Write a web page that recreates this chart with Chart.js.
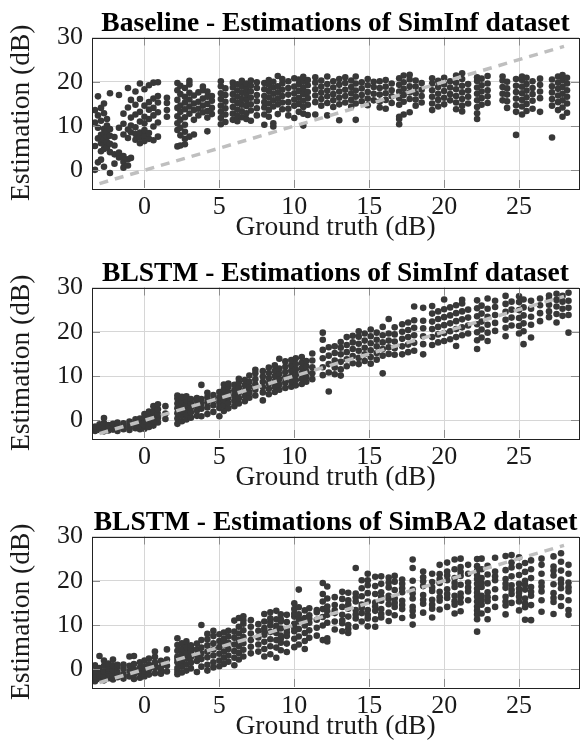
<!DOCTYPE html>
<html>
<head>
<meta charset="utf-8">
<script src="https://cdn.jsdelivr.net/npm/chart.js@4.4.1/dist/chart.umd.min.js"></script>
<style>
  html, body { margin: 0; padding: 0; background: #fff; overflow: hidden; }
  body { width: 581px; height: 742px; position: relative; }
  .panel { position: absolute; left: 0; }
  canvas { display: block; }
</style>
</head>
<body>
<div class="panel" style="top:0px"><canvas id="baseChart" width="583" height="250"></canvas></div>
<div class="panel" style="top:250px"><canvas id="infChart" width="583" height="250"></canvas></div>
<div class="panel" style="top:499px"><canvas id="ba2Chart" width="583" height="250"></canvas></div>

<script>
// axis ticks
const xTicks = [0, 5, 10, 15, 20, 25];
const yTicks = [0, 10, 20, 30];
const refLine = [-3, 28];

// Baseline - SimInf: ground truth columns and the estimations read for each
const baseTruth = [-3.3, -3.1, -2.9, -2.7, -2.5, -2.3, -2.0, -1.7, -1.4, -1.1, -0.9, -0.6, -0.3, 0.0, 0.3, 0.6, 0.9, 1.5,
  2.2, 2.4, 2.7, 3.0, 3.3, 3.6, 3.9, 4.2, 4.5, 5.1, 5.4, 5.9, 6.2, 6.5, 6.8, 7.1, 7.5, 8.0, 8.3, 8.6, 8.9, 9.2, 9.6,
  10.0, 10.3, 10.6, 10.9, 11.4, 11.8, 12.2, 12.6, 13.0, 13.4, 13.8, 14.1, 14.5, 14.9, 15.3, 15.7, 16.1, 16.5,
  17.0, 17.3, 17.7, 18.1, 18.5, 19.2, 19.6, 20.0, 20.4, 20.8, 21.2, 21.6, 22.2, 22.5, 22.9, 23.9, 24.2, 24.8,
  25.2, 25.5, 25.9, 26.4, 27.2, 27.6, 27.9, 28.2];
const baseEst = [
  [0.1, 5.5, 10.8, 13.6], [1.8, 7.2, 9.6, 12.4, 16.7], [2.4, 4.3, 6.1, 8.0, 11.2, 14.1],
  [0.8, 4.8, 5.9, 6.9, 8.3, 9.4, 12.9, 15.1], [5.2, 6.4, 7.6, 8.8, 10.1, 11.6], [-0.6, 4.1, 6.0, 7.8, 9.3, 17.4],
  [1.5, 3.6, 5.6, 7.5], [2.9, 4.0, 9.6, 17.0], [0.6, 1.9, 3.2, 8.1, 10.5, 12.8], [1.1, 2.5, 7.3, 9.2, 14.2, 18.6],
  [2.8, 8.6, 10.1, 11.9, 15.9], [6.9, 8.2, 9.7, 12.6, 14.8, 17.8], [6.1, 7.4, 8.5, 11.0, 13.2, 16.1, 19.6],
  [6.6, 7.8, 9.1, 10.6, 12.1, 14.6, 18.3], [7.1, 8.4, 11.6, 13.7, 15.4, 19.2], [6.8, 9.9, 12.4, 14.1, 16.2, 19.8],
  [7.6, 10.8, 13.1, 15.3, 16.8, 19.9], [12.1, 13.6, 15.2, 16.4],
  [5.4, 9.1, 10.6, 12.2, 14.1, 15.9, 18.1, 19.7], [5.6, 7.9, 9.6, 11.4, 13.2, 14.6, 17.2, 19.1],
  [5.9, 7.1, 8.7, 10.3, 12.0, 13.8, 15.3, 16.6, 18.6], [7.6, 12.8, 14.4, 16.0, 17.5, 19.4, 20.2],
  [8.1, 11.4, 13.6, 15.1, 16.9], [12.4, 13.9, 15.5, 17.6], [13.1, 14.6, 16.2, 18.1, 18.9],
  [8.8, 11.9, 13.4, 15.0, 16.6, 17.8], [12.7, 14.1, 15.7, 16.8],
  [10.4, 11.8, 13.2, 14.6, 16.1, 17.4, 19.0, 20.1], [10.9, 12.6, 14.0, 15.5, 17.0, 18.5],
  [11.4, 12.8, 14.3, 15.8, 17.2, 18.7, 19.8], [11.1, 12.3, 13.7, 15.2, 16.6, 18.0, 19.4],
  [12.0, 13.3, 14.8, 16.1, 17.5, 18.9, 20.2], [11.6, 12.9, 14.5, 15.9, 17.2, 18.4, 19.6],
  [11.2, 13.5, 14.9, 16.4, 17.8, 19.1, 20.3], [12.4, 14.0, 15.6, 17.0, 18.6, 19.9],
  [10.3, 12.6, 14.2, 15.4, 16.8, 18.3, 19.7], [12.1, 13.6, 15.1, 16.5, 17.9, 19.3, 20.4],
  [9.9, 10.6, 14.4, 15.8, 17.3, 18.7, 20.0], [12.7, 14.9, 16.2, 17.6, 19.0, 21.3],
  [13.8, 15.3, 16.8, 18.2, 19.6, 20.6], [12.4, 13.9, 15.4, 17.1, 18.6, 20.1],
  [11.8, 14.6, 16.0, 17.4, 18.9, 20.8], [13.2, 15.0, 16.4, 17.9, 19.4, 20.5],
  [10.1, 12.8, 14.3, 15.7, 17.2, 18.6, 20.0, 21.1], [12.5, 14.8, 16.3, 17.7, 19.2, 20.4],
  [12.6, 15.4, 16.9, 18.3, 19.8, 21.0], [14.6, 16.1, 17.5, 18.9, 20.3],
  [12.4, 15.2, 16.7, 18.0, 19.5, 21.2], [14.3, 15.8, 17.2, 18.7, 20.1],
  [11.3, 14.9, 16.4, 17.8, 19.3, 20.6], [15.3, 16.8, 18.2, 19.7, 21.0], [14.4, 15.9, 17.4, 18.8, 20.3],
  [11.4, 15.1, 16.6, 18.0, 19.6, 21.2], [15.6, 17.0, 18.5, 19.9], [14.7, 16.2, 17.7, 19.2, 20.6],
  [15.8, 17.3, 18.8, 20.0], [14.2, 15.5, 17.1, 18.6, 20.1], [13.9, 15.9, 17.4, 18.9, 20.4],
  [15.2, 16.7, 18.1, 19.6],
  [10.4, 11.6, 12.1, 14.8, 16.3, 17.8, 19.3, 20.8], [12.6, 15.5, 17.0, 18.4, 19.9, 21.4],
  [13.1, 16.1, 17.6, 19.0, 20.5, 21.6], [14.6, 16.0, 17.4, 18.9, 20.3], [15.3, 16.8, 18.2, 19.7],
  [13.6, 15.1, 16.6, 18.1, 19.6, 20.8], [14.4, 15.9, 17.3, 18.8, 20.2], [14.9, 16.4, 17.9, 19.4, 20.9],
  [15.8, 17.2, 18.7, 20.1], [13.8, 15.3, 16.8, 18.3, 19.8, 21.4], [13.3, 14.6, 16.1, 17.6, 19.1, 20.6, 21.9],
  [15.1, 16.6, 18.0, 19.5],
  [11.6, 12.9, 14.3, 15.8, 17.3, 18.7, 20.2, 21.0], [14.8, 16.3, 17.8, 19.2, 20.7], [15.2, 16.7, 18.1, 19.6, 21.3],
  [15.8, 17.3, 18.8, 20.3, 21.2], [14.1, 15.6, 17.1, 18.5, 20.0], [8.0, 13.2, 14.7, 16.2, 17.7, 19.1, 20.6],
  [12.6, 14.4, 15.9, 17.4, 18.9, 20.4, 21.2], [13.4, 15.0, 16.5, 18.0, 19.5, 20.9], [13.9, 15.7, 17.2, 18.6, 20.1],
  [13.2, 16.3, 17.8, 19.3, 20.7], [7.4, 14.6, 16.1, 17.6, 19.0, 20.5], [13.6, 15.4, 16.9, 18.4, 19.8, 21.2],
  [12.1, 14.2, 15.8, 17.3, 18.8, 20.3, 21.5], [13.0, 15.1, 16.6, 18.1, 19.6, 20.9]
];

// BLSTM - SimInf
const infTruth = [-3.3, -3.0, -2.7, -2.4, -2.1, -1.8, -1.4, -1.0, -0.6, -0.3, 0.0, 0.3, 0.6, 0.9, 1.4,
  2.2, 2.5, 2.8, 3.1, 3.5, 3.8, 4.2, 4.6, 5.0, 5.3, 5.6, 6.0, 6.3, 6.7, 7.0, 7.4, 7.9, 8.3, 8.7, 9.0, 9.4, 9.8,
  10.1, 10.5, 10.8, 11.2, 11.9, 12.3, 12.7, 13.1, 13.5, 13.9, 14.3, 14.7, 15.1, 15.5, 15.9, 16.3, 16.7,
  17.2, 17.6, 18.0, 18.6, 19.2, 19.6, 20.0, 20.4, 20.8, 21.2, 21.6, 22.2, 22.5, 22.9, 23.4,
  24.1, 24.5, 25.0, 25.3, 25.8, 26.4, 27.0, 27.5, 27.9, 28.3];
const infEst = [
  [-2.4, -1.9, -1.4], [-2.2, -1.6, -0.9], [-2.5, -2.0, -1.3, -0.6, 0.5], [-2.3, -1.7, -1.1], [-2.1, -1.5, -0.8],
  [-2.4, -1.8, -1.2, -0.5], [-2.0, -1.4, -0.7], [-2.2, -1.6, -1.0, -0.3], [-1.8, -1.2, -0.5, 0.2],
  [-2.0, -1.3, -0.6, 0.4], [-1.9, -1.1, -0.3, 0.6, 1.4], [-1.5, -0.7, 0.3, 1.2, 2.0], [-1.2, -0.2, 0.8, 1.9, 3.2],
  [-0.5, 0.5, 1.4, 2.5, 3.6], [0.3, 1.5, 3.2],
  [-0.8, 0.4, 1.6, 2.7, 3.8, 4.9, 5.6], [-0.2, 1.0, 2.1, 3.2, 4.3, 5.3], [0.2, 1.4, 2.5, 3.6, 4.6, 5.4],
  [0.6, 1.8, 2.9, 3.9, 4.8], [1.0, 2.2, 3.3, 4.4, 5.0], [0.9, 2.6, 3.7, 4.8, 8.0], [1.4, 2.9, 4.1, 5.2, 6.2],
  [1.9, 3.4, 4.6, 5.7], [0.9, 2.8, 4.0, 5.2, 6.4], [2.1, 3.4, 4.6, 5.8, 7.0, 8.1], [2.7, 3.9, 5.1, 6.3, 7.5, 8.3],
  [3.2, 4.4, 5.6, 6.8, 8.0], [3.8, 5.0, 6.2, 7.4, 8.6, 9.4], [4.3, 5.5, 6.7, 7.9, 9.1], [5.1, 6.3, 7.5, 8.7, 10.1],
  [5.6, 6.9, 8.1, 9.3, 10.6, 11.4], [4.5, 6.3, 7.5, 8.7, 9.9, 11.1], [5.9, 7.1, 8.3, 9.5, 10.7, 11.9],
  [6.4, 7.6, 8.8, 10.0, 11.2, 12.4], [6.9, 8.1, 9.3, 10.5, 11.7, 13.9], [7.3, 8.5, 9.7, 10.9, 12.1, 13.3],
  [7.6, 8.8, 10.0, 11.2, 12.4, 13.6], [7.9, 9.1, 10.3, 11.5, 12.7, 14.0], [8.2, 9.4, 10.6, 11.8, 13.0, 14.3],
  [8.7, 9.8, 11.0, 12.2, 13.4], [9.3, 10.6, 12.0, 13.5, 15.1], [10.2, 12.0, 14.0, 15.9, 18.2, 19.8],
  [6.5, 10.8, 12.7, 14.6, 16.5], [10.4, 11.9, 13.5, 15.2, 16.7], [10.1, 11.5, 13.2, 14.9, 16.4, 17.7],
  [12.2, 13.8, 15.4, 17.0, 18.8], [12.9, 14.5, 16.1, 17.6, 19.1], [12.7, 14.1, 15.7, 17.3, 18.9, 20.1],
  [13.4, 14.9, 16.4, 18.0, 19.6], [12.8, 14.3, 15.8, 17.4, 19.0, 20.5], [13.7, 15.2, 16.7, 18.2, 19.8],
  [10.6, 14.6, 16.1, 17.6, 19.2, 21.1], [15.0, 16.5, 18.0, 19.6, 22.9], [14.8, 16.3, 17.8, 19.4, 21.0],
  [14.9, 16.7, 18.4, 20.0, 21.7], [15.4, 17.1, 18.8, 20.4, 22.1], [15.7, 17.5, 19.2, 20.9, 22.6, 25.7],
  [14.9, 17.2, 19.0, 20.8, 22.5, 25.4], [17.0, 18.8, 20.6, 22.3, 24.1, 25.8], [17.6, 19.4, 21.1, 22.9, 24.6],
  [17.9, 19.7, 21.5, 23.3, 25.1, 27.3], [18.3, 20.1, 21.9, 23.7, 25.5], [16.8, 18.8, 20.6, 22.4, 24.2, 26.0],
  [19.2, 21.0, 22.8, 24.6, 26.4, 27.2], [19.6, 21.4, 23.2, 25.0],
  [16.1, 18.1, 19.9, 21.7, 23.5, 25.3, 27.1], [18.7, 20.5, 22.3, 24.1, 25.9], [17.9, 19.8, 21.6, 23.4, 25.2, 27.5],
  [20.2, 22.0, 23.8, 25.6, 27.0],
  [19.0, 20.9, 22.7, 24.5, 26.3, 28.1], [21.4, 23.2, 25.0, 26.8], [19.6, 21.3, 23.1, 24.9, 26.7, 28.0],
  [17.2, 20.1, 21.9, 23.7, 25.5, 27.3], [18.7, 21.6, 23.4, 25.2, 27.0], [22.4, 24.2, 26.0, 27.5],
  [23.3, 24.6, 26.1, 27.4, 28.2], [22.1, 24.0, 25.7, 27.2, 28.6], [23.6, 25.2, 26.8, 28.1],
  [19.8, 23.8, 25.4, 27.0, 28.8]
];

// BLSTM - SimBA2
const ba2Truth = [-3.3, -3.0, -2.7, -2.4, -2.1, -1.8, -1.4, -1.0, -0.7, -0.3, 0.0, 0.3, 0.7, 1.1, 1.5,
  2.2, 2.5, 2.8, 3.1, 3.5, 3.8, 4.2, 4.6, 5.0, 5.3, 5.6, 6.0, 6.3, 6.6, 7.1, 7.6, 8.0, 8.4, 8.8, 9.1, 9.5,
  10.0, 10.3, 10.7, 11.0, 11.5, 11.9, 12.2, 12.7, 13.2, 13.6, 14.1, 14.5, 14.9, 15.4, 15.8, 16.3, 16.7, 17.2,
  17.9, 18.6, 19.2, 19.7, 20.2, 20.7, 21.1, 21.6, 22.2, 22.5, 22.9, 23.4, 24.1, 24.5, 25.0, 25.4, 25.8,
  26.5, 27.3, 27.8, 28.3];
const ba2Est = [
  [-2.7, -2.1, -1.6, -0.4, 0.9], [-2.2, -1.4, -1.0, 0.3, 3.0], [-2.5, -1.9, -1.5, -0.5, 0.8, 2.0],
  [-2.0, -0.9, -0.3, 0.2, 1.3], [-2.3, -1.7, -1.3, -0.2, 0.9, 2.2], [-1.8, -0.7, 0.5, 1.0],
  [-2.1, -1.6, -1.1, 0.1, 1.1], [-1.6, -0.4, 0.8, 2.9], [-2.2, -1.2, -0.6, 0.0, 1.2, 3.0],
  [-1.9, -0.8, 0.4, 1.6], [-1.6, -1.0, -0.5, 0.7, 2.0], [-1.2, -0.1, 1.1, 2.4],
  [-0.9, 0.3, 1.0, 1.6, 2.8, 4.0], [-1.0, -0.3, 0.5, 1.9], [-0.5, 0.8, 2.2, 4.5],
  [-1.1, -0.4, 0.3, 1.6, 2.3, 2.9, 4.2, 5.5, 7.0], [-0.7, 0.7, 1.4, 2.0, 3.3, 3.9, 4.6, 5.9],
  [-0.3, 1.1, 2.4, 3.0, 3.7, 5.0, 6.3], [0.2, 1.5, 2.8, 4.1, 4.7, 5.4], [-0.6, 1.9, 3.2, 4.5, 5.8],
  [0.6, 2.3, 3.6, 4.9, 6.6, 10.0], [-0.3, 1.0, 2.7, 4.0, 5.4, 6.8, 8.0], [0.4, 1.6, 3.1, 4.5, 5.9, 7.5, 8.7],
  [0.7, 2.0, 3.5, 5.0, 6.4, 7.9], [1.2, 2.6, 4.0, 5.5, 6.1, 6.9, 8.3], [1.7, 3.1, 4.6, 6.0, 7.4, 8.7],
  [0.9, 2.6, 4.1, 5.6, 7.1, 8.5, 11.0], [2.2, 3.7, 5.2, 5.9, 6.6, 8.1, 9.6, 11.6],
  [2.9, 4.4, 5.9, 7.3, 8.8, 10.3, 11.1, 12.0], [3.6, 5.1, 6.6, 8.1, 9.6, 11.1], [4.0, 5.6, 7.2, 8.7, 10.2],
  [2.9, 4.6, 6.2, 7.8, 8.6, 9.3, 10.8, 12.5], [3.4, 5.2, 6.8, 8.4, 9.9, 10.7, 11.5, 12.9],
  [2.6, 4.9, 6.6, 8.2, 9.0, 9.8, 11.3, 13.2],
  [4.3, 6.0, 6.9, 7.6, 9.2, 10.8, 11.3, 12.4], [3.9, 5.8, 7.5, 8.3, 9.1, 10.7, 12.3],
  [5.0, 6.9, 8.6, 9.4, 10.3, 11.9, 12.6, 13.6, 14.9], [5.6, 7.4, 9.1, 10.8, 11.5, 12.4, 14.0, 18.0],
  [4.6, 6.4, 8.2, 9.9, 10.6, 11.6, 13.3], [7.1, 8.8, 10.5, 11.4, 12.2, 13.8], [7.6, 9.4, 11.2, 12.9, 13.4],
  [6.6, 9.9, 11.8, 13.6, 15.3, 17.0, 19.5], [6.3, 7.0, 10.5, 12.3, 13.1, 14.2, 16.0, 18.7],
  [9.0, 10.8, 12.7, 13.3, 14.5, 16.3], [8.6, 10.4, 11.0, 12.3, 14.1, 15.9, 17.5],
  [8.2, 9.1, 10.0, 11.9, 13.7, 14.6, 15.6, 17.3], [9.6, 11.5, 12.4, 13.4, 15.3, 16.2, 17.1, 22.9],
  [10.8, 12.7, 13.9, 14.6, 16.5, 18.3, 20.1], [9.7, 11.5, 12.3, 13.4, 15.3, 17.2, 19.0, 20.1, 21.6],
  [9.6, 11.3, 13.2, 14.2, 15.1, 17.0, 18.8, 20.9], [11.7, 12.5, 13.6, 15.5, 16.4, 17.4, 19.3, 21.0],
  [10.9, 12.8, 14.7, 15.9, 16.6, 18.5, 19.6, 20.7], [12.2, 14.1, 15.0, 16.0, 17.9, 19.8, 21.1],
  [11.6, 13.6, 14.5, 15.5, 17.4, 18.3, 19.3, 20.3],
  [10.1, 12.1, 13.2, 14.1, 16.0, 17.1, 18.0, 20.0, 22.9, 24.8], [12.8, 14.8, 15.7, 16.8, 18.8, 19.9, 20.8, 22.1],
  [11.7, 13.7, 14.6, 15.7, 17.7, 18.5, 19.7, 21.6], [13.5, 15.5, 16.3, 17.5, 19.5, 20.4, 21.5, 23.6],
  [14.1, 16.1, 17.0, 18.1, 20.1, 21.2, 22.1, 24.1], [12.6, 14.6, 15.4, 16.6, 18.6, 19.5, 20.6, 22.6, 24.8],
  [13.1, 15.1, 16.2, 17.1, 19.1, 21.1, 22.0, 23.1, 25.0], [15.6, 17.6, 18.5, 19.6, 21.6, 23.6],
  [8.5, 11.3, 12.4, 13.3, 14.2, 15.3, 16.4, 17.3, 18.2, 19.3, 20.4, 21.3, 22.2, 23.3, 24.9],
  [12.6, 14.6, 15.7, 16.6, 18.6, 19.5, 20.6, 22.6, 25.0], [11.3, 13.4, 15.4, 16.3, 17.4, 19.4, 21.4, 23.4],
  [14.1, 16.1, 18.1, 20.1, 21.0, 22.1, 25.2],
  [12.4, 14.4, 15.3, 16.4, 18.4, 19.3, 20.4, 22.4, 25.6], [15.0, 17.0, 17.9, 19.0, 21.0, 23.0, 24.1, 25.8],
  [13.3, 15.3, 16.4, 17.3, 18.2, 19.3, 21.3, 23.3, 25.3], [11.2, 14.0, 14.9, 16.0, 18.0, 19.1, 20.0, 22.0, 24.0],
  [11.1, 14.5, 16.6, 17.5, 18.6, 20.6, 22.6, 24.6],
  [13.0, 15.6, 17.6, 18.7, 19.6, 21.6, 23.6, 25.0], [12.5, 15.2, 16.1, 17.2, 19.2, 21.2, 22.3, 23.2, 25.5],
  [14.3, 16.3, 18.3, 19.4, 20.3, 22.3, 24.3, 26.2], [12.3, 13.4, 15.6, 17.6, 18.5, 19.6, 21.6, 23.6]
];

var serif = "'Liberation Serif', 'Times New Roman', serif";

// box round the plot + short ticks on the inside, like pgfplots
var framePlugin = {
    id: 'frame',
    afterDraw: function(chart) {
        var ctx = chart.ctx;
        var a = chart.chartArea;
        var sx = chart.scales.x, sy = chart.scales.y;
        ctx.save();
        ctx.strokeStyle = '#8c8c8c';
        ctx.lineWidth = 1;
        ctx.beginPath();
        xTicks.forEach(function(v) {
            var p = Math.round(sx.getPixelForValue(v)) + 0.5;
            ctx.moveTo(p, a.bottom); ctx.lineTo(p, a.bottom - 8);
            ctx.moveTo(p, a.top); ctx.lineTo(p, a.top + 8);
        });
        yTicks.forEach(function(v) {
            var p = Math.round(sy.getPixelForValue(v)) + 0.5;
            ctx.moveTo(a.left, p); ctx.lineTo(a.left + 8, p);
            ctx.moveTo(a.right, p); ctx.lineTo(a.right - 8, p);
        });
        ctx.stroke();
        ctx.strokeStyle = '#222';
        ctx.strokeRect(Math.round(a.left) + 0.5, Math.round(a.top) + 0.5,
            Math.round(a.right - a.left), Math.round(a.bottom - a.top));
        ctx.restore();
    }
};

function toPoints(truth, est) {
    var pts = [];
    truth.forEach(function(t, i) {
        est[i].forEach(function(e) { pts.push({x: t, y: e}); });
    });
    return pts;
}

function makePanel(id, title, truth, est) {
    var ctx = document.getElementById(id).getContext('2d');
    return new Chart(ctx, {
        type: 'scatter',
        data: {
            datasets: [{
                type: 'line',
                data: refLine.map(function(v) { return {x: v, y: v}; }),
                borderColor: '#bfbfbf',
                borderWidth: 3.5,
                borderDash: [9, 7],
                pointRadius: 0,
                order: 0
            }, {
                data: toPoints(truth, est),
                backgroundColor: '#383838',
                borderWidth: 0,
                pointRadius: 3.3,
                order: 1
            }]
        },
        options: {
            responsive: false,
            animation: false,
            layout: { padding: { left: 0, right: 2, top: 0, bottom: 0 } },
            plugins: {
                legend: { display: false },
                tooltip: { enabled: false },
                title: {
                    display: true,
                    fullSize: false,
                    text: title,
                    color: '#000',
                    font: { family: serif, size: 27.5, weight: 'bold', lineHeight: 1 },
                    padding: { top: 10, bottom: 0 }
                }
            },
            scales: {
                x: {
                    type: 'linear',
                    min: -3.5,
                    max: 29,
                    afterBuildTicks: function(s) { s.ticks = xTicks.map(function(v) { return {value: v}; }); },
                    afterFit: function(s) { s.height = 62; },
                    grid: { color: '#d6d6d6', drawTicks: false },
                    border: { display: false },
                    ticks: { color: '#1a1a1a', padding: 4, font: { family: serif, size: 26 } },
                    title: {
                        display: true,
                        text: 'Ground truth (dB)',
                        color: '#1a1a1a',
                        font: { family: serif, size: 27.5 },
                        padding: { top: 0, bottom: 5.5 }
                    }
                },
                y: {
                    type: 'linear',
                    min: -4,
                    max: 30,
                    afterBuildTicks: function(s) { s.ticks = yTicks.map(function(v) { return {value: v}; }); },
                    afterFit: function(s) { s.width = 92; },
                    grid: { color: '#d6d6d6', drawTicks: false },
                    border: { display: false },
                    ticks: { color: '#1a1a1a', padding: 9, font: { family: serif, size: 26 } },
                    title: {
                        display: true,
                        text: 'Estimation (dB)',
                        color: '#1a1a1a',
                        font: { family: serif, size: 27.5 },
                        padding: { top: 5, bottom: 0 }
                    }
                }
            }
        },
        plugins: [framePlugin]
    });
}

document.addEventListener('DOMContentLoaded', function() {
    makePanel('baseChart', 'Baseline - Estimations of SimInf dataset', baseTruth, baseEst);
    makePanel('infChart', 'BLSTM - Estimations of SimInf dataset', infTruth, infEst);
    makePanel('ba2Chart', 'BLSTM - Estimations of SimBA2 dataset', ba2Truth, ba2Est);
});
</script>
</body>
</html>
